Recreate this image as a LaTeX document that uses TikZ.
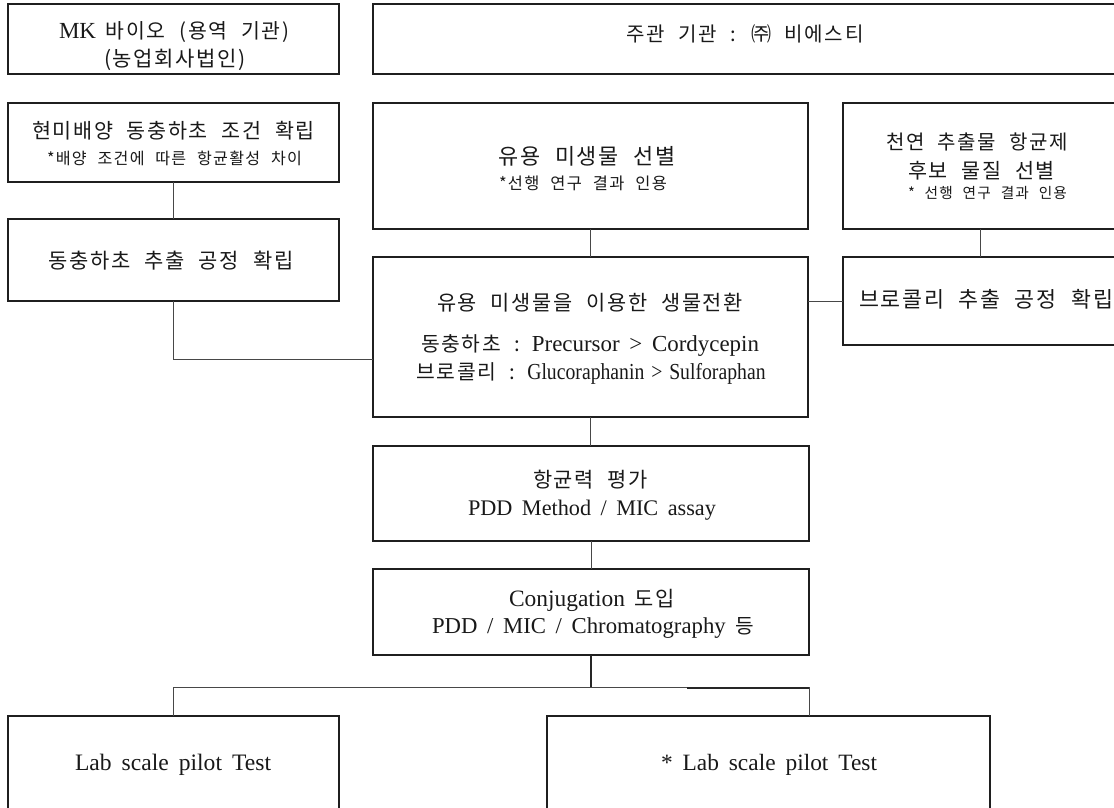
\documentclass[tikz,border=0pt]{standalone}
\usepackage{fontspec}
\setmainfont{Liberation Serif}[WordSpace=1.7]
\newfontfamily\condf{Liberation Serif}[FakeStretch=0.86,WordSpace=1.4]
\newfontfamily\krf{Noto Sans CJK KR}[Scale=0.89,LetterSpace=8,WordSpace=2.2]
\newcommand\kt[1]{{\krf #1}}
\newsavebox\fitbox
% \fitline{target width in pt}{line}: sets the line at the size that gives that width
\newcommand\fitline[2]{%
  \sbox\fitbox{\fontsize{10}{10}\selectfont #2}%
  \pgfmathsetmacro\fitsize{10*#1/\wd\fitbox}%
  \xdef\lastfit{\fitsize}%
  \fontsize{\fitsize}{\fitsize}\selectfont #2}
\begin{document}
\begin{tikzpicture}[x=1pt,y=-1pt,
  box/.style={draw=black!88,line width=1.1pt,inner sep=0pt,outer sep=0pt},
  txt/.style={anchor=base,inner sep=0pt,outer sep=0pt,text=black!90},
  link/.style={draw=black!72,line width=0.9pt}]
\useasboundingbox (0,0) rectangle (1114,807);
\fill[white] (0,0) rectangle (1114,807);
\clip (0,0) rectangle (1114,807);
% boxes
\node[box,minimum width=331,minimum height=70]  (mk)   at (173.5,39)  {};
\node[box,minimum width=744,minimum height=70]  (host) at (745,39)    {};
\node[box,minimum width=331,minimum height=79]  (hm)   at (173.5,142.5) {};
\node[box,minimum width=331,minimum height=82]  (dx)   at (173.5,260) {};
\node[box,minimum width=435,minimum height=126] (ys)   at (590.5,166) {};
\node[box,minimum width=274,minimum height=126] (cy)   at (980,166)   {};
\node[box,minimum width=435,minimum height=160] (bio)  at (590.5,337) {};
\node[box,minimum width=274,minimum height=88]  (br)   at (980,301)   {};
\node[box,minimum width=436,minimum height=95]  (ab)   at (591,493.5) {};
\node[box,minimum width=436,minimum height=86]  (cj)   at (591,612)   {};
\node[box,minimum width=331,minimum height=96]  (labL) at (173.5,764) {};
\node[box,minimum width=443,minimum height=96]  (labR) at (768.5,764) {};
% texts
\node[txt] (mk1) at (174,38.7) {\fitline{230}{MK \kt{바이오 (용역 기관)}}};
\node[txt] (mk2) at (175,66.2) {\fitline{142}{\kt{(농업회사법인)}}};
\node[txt] (host1) at (745,41.2) {\fitline{237}{\kt{주관 기관 : ㈜ 비에스티}}};
\node[txt] (hm1) at (173.5,138.6) {\fitline{283}{\kt{현미배양 동충하초 조건 확립}}};
\node[txt] (hm2) at (174.5,164.7) {\fitline{255}{\kt{*배양 조건에 따른 항균활성 차이}}};
\node[txt] (dx1) at (171,268) {\fitline{245}{\kt{동충하초 추출 공정 확립}}};
\node[txt] (ys1) at (587,164.5) {\fitline{177}{\kt{유용 미생물 선별}}};
\node[txt] (ys2) at (583,189) {\fitline{168}{\kt{*선행 연구 결과 인용}}};
\node[txt] (cy1) at (977,149.5) {\fitline{182}{\kt{천연 추출물 항균제}}};
\node[txt] (cy2) at (981.5,178) {\fitline{147}{\kt{후보 물질 선별}}};
\node[txt] (cy3) at (987.5,198.2) {\fitline{159}{\kt{* 선행 연구 결과 인용}}};
\node[txt] (bio1) at (590,310.7) {\fitline{306}{\kt{유용 미생물을 이용한 생물전환}}};
\node[txt] (bio2) at (590,351.2) {\fitline{338}{\kt{동충하초 :} Precursor {>} Cordycepin}};
\node[txt] (bio3) at (591,379.2) {\fontsize{\lastfit}{\lastfit}\selectfont\kt{브로콜리 :} {\condf Glucoraphanin {>} Sulforaphan}};
\node[txt] (br1) at (986,307.4) {\fitline{254}{\kt{브로콜리 추출 공정 확립}}};
\node[txt] (ab1) at (590.5,487) {\fitline{115}{\kt{항균력 평가}}};
\node[txt] (ab2) at (592,515) {\fitline{248}{PDD Method / MIC assay}};
\node[txt] (cj1) at (592,606) {\fitline{166}{Conjugation \kt{도입}}};
\node[txt] (cj2) at (593,633) {\fitline{322}{PDD / MIC / Chromatography \kt{등}}};
\node[txt] (lab1) at (173,770) {\fitline{196}{Lab scale pilot Test}};
\node[txt] (lab2) at (769,770) {\fitline{216}{* Lab scale pilot Test}};
% connectors
\draw[link] (hm.south) -- (dx.north);
\draw[link] (dx.south) |- ([yshift=-22pt]bio.west);
\draw[link] (ys.south) -- (bio.north);
\draw[link] (cy.south) -- (br.north);
\draw[link] (br.west) -- (br.west -| bio.east);
\draw[link] (bio.south) -- (bio.south |- ab.north);
\draw[link] (ab.south) -- (ab.south |- cj.north);
\coordinate (hub) at (591,687);
\coordinate (rdrop) at (labR.north -| cj.east);
\coordinate (tk) at (687,688);
\draw[link,line width=1.7pt,draw=black!85] (cj.south) -- (hub);
\draw[link] (labL.north) |- (hub) -| (rdrop);
\draw[draw=black!85,line width=2.6pt] (tk) -- (tk -| rdrop);
\end{tikzpicture}
\end{document}
